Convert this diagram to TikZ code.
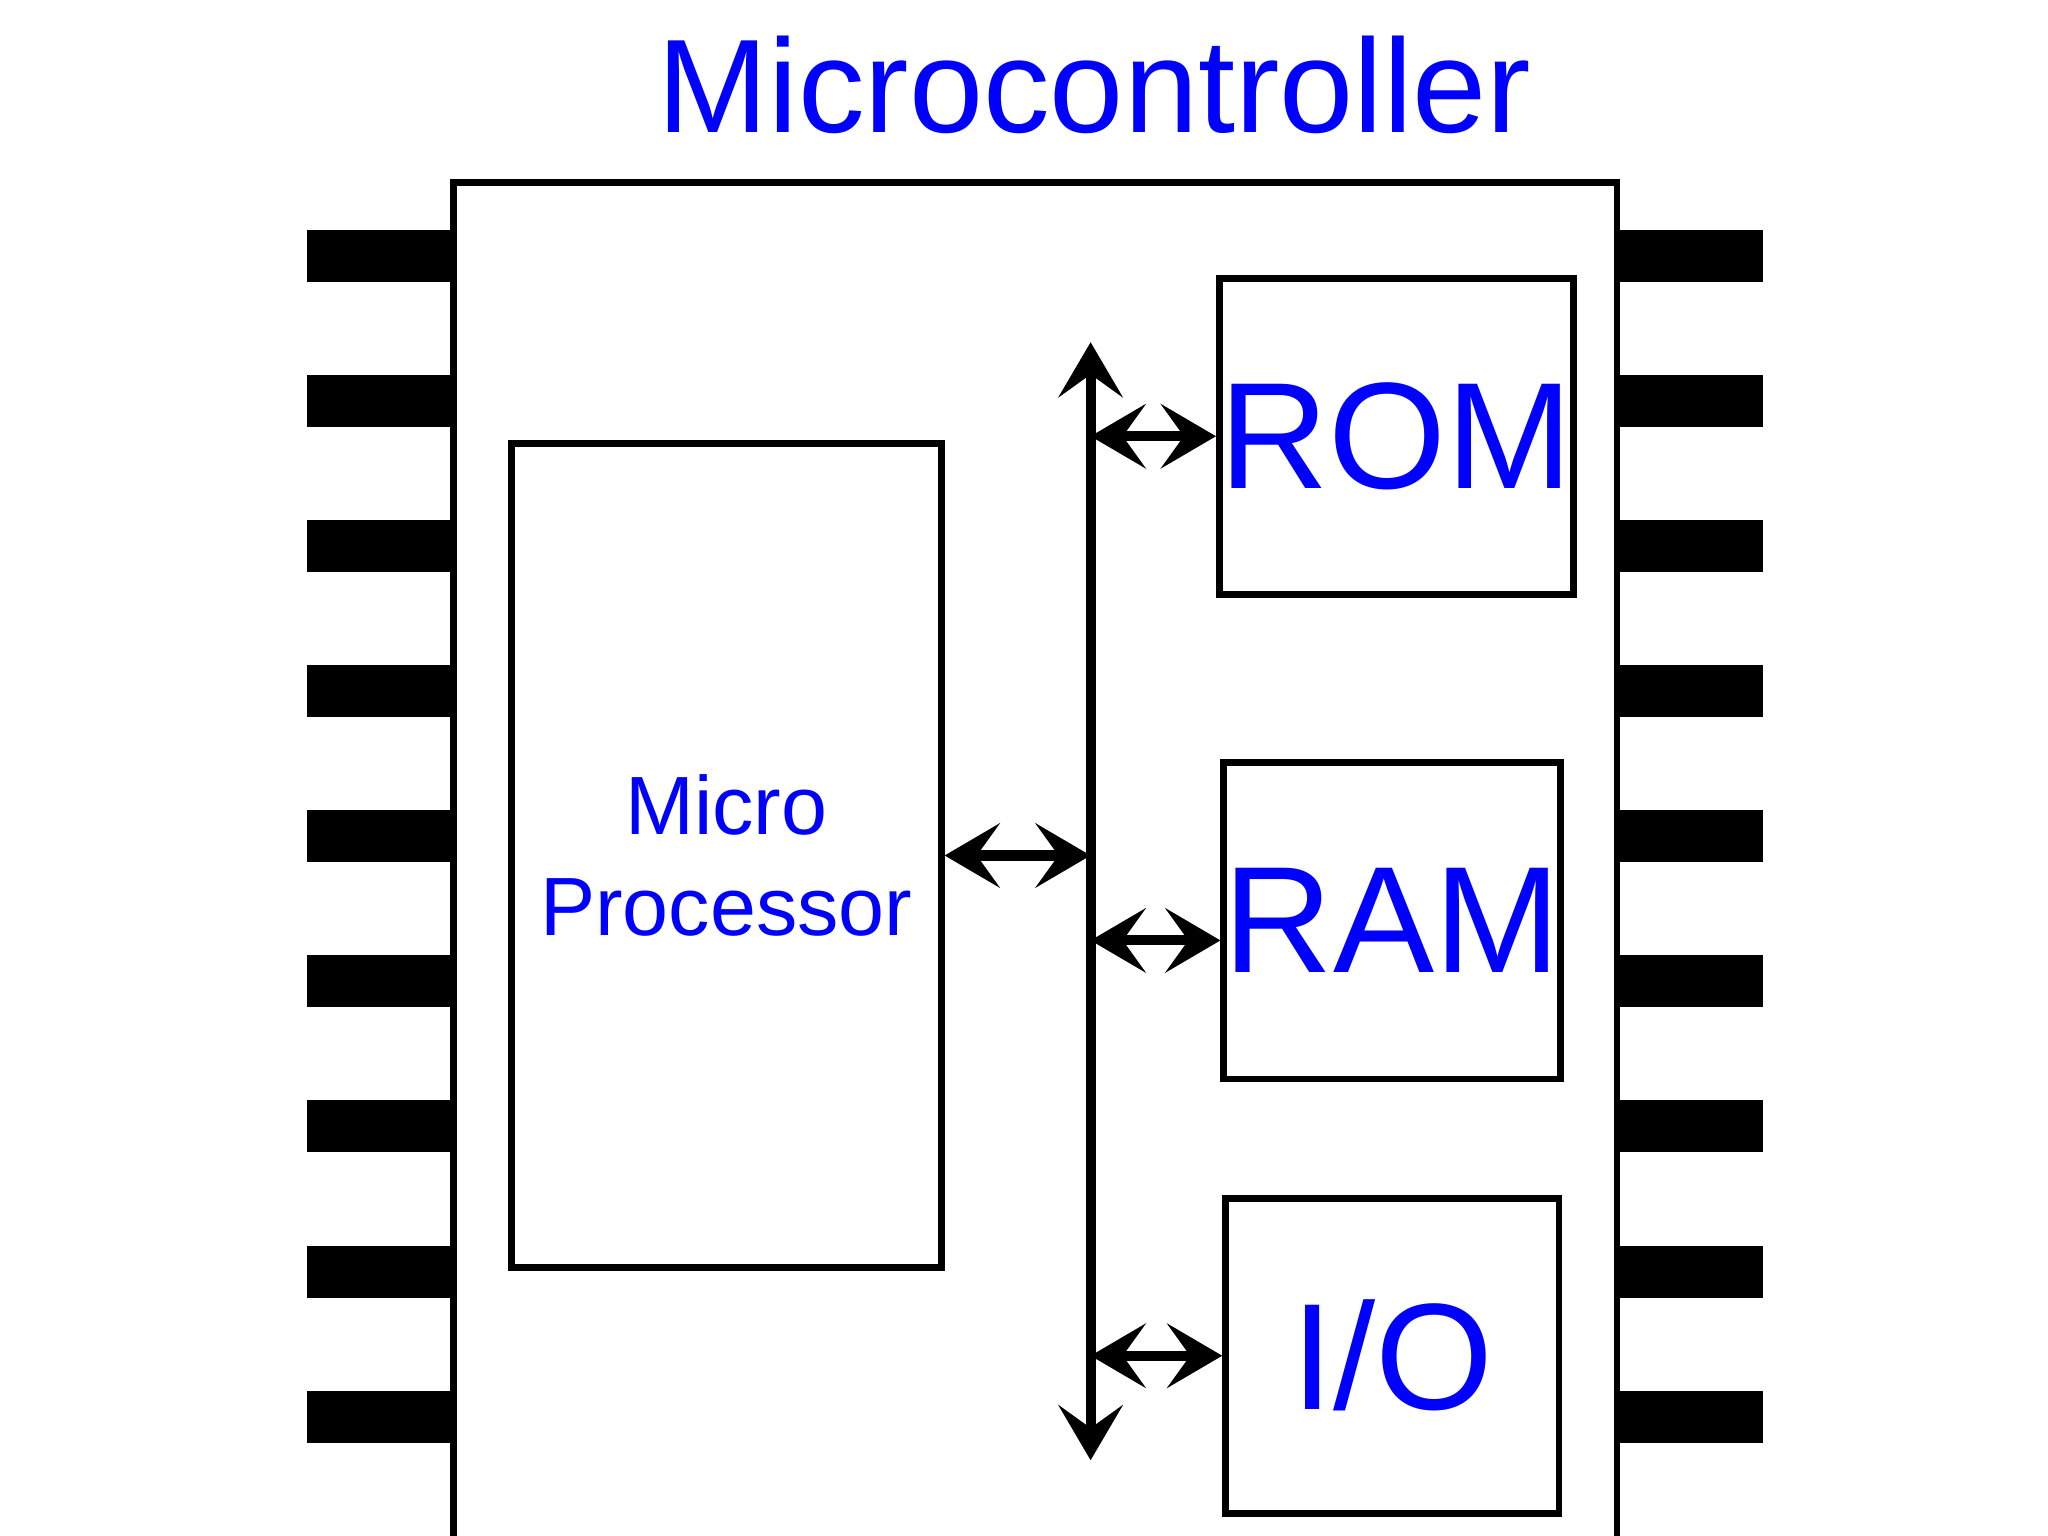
\documentclass[tikz,border=0pt]{standalone}
\usepackage{fontspec}
\setmainfont{Liberation Sans}
\usetikzlibrary{arrows.meta,positioning}
\tikzset{
    part/.style = {rectangle, draw, line width=1.5pt, inner sep=0pt, text=blue},
    pin/.style = {fill=black},
    link/.style = {line width=2.2pt, {Stealth[length=12pt,width=14pt,inset=5pt]}-{Stealth[length=12pt,width=14pt,inset=5pt]}}
}
\begin{document}
\begin{tikzpicture}[x=0.01cm, y=-0.01cm]
    \useasboundingbox (0,0) rectangle (1568,1176);
    \clip (0,0) rectangle (1568,1176);
    % Title and chip
    \node [text=blue, font=\fontsize{29}{34}\selectfont] (title) at (838,65) {Microcontroller};
    \draw [line width=1.5pt] (347,1190) -- (347,140) -- (1238,140) -- (1238,1190);
    \foreach \y in {196,307,418,529,640,751,862,974,1085} {
        \fill [pin] (235,\y-20) rectangle (347,\y+20);
        \fill [pin] (1238,\y-20) rectangle (1350,\y+20);
    }
    % Place blocks
    \node [part, minimum width=3.29cm, minimum height=6.3cm, align=center,
        font=\fontsize{18}{22}\selectfont] (cpu) at (556,655) {Micro\\Processor};
    \node [part, minimum width=2.6cm, minimum height=2.42cm,
        font=\fontsize{33}{40}\selectfont] (rom) at (1069,334) {ROM};
    \node [part, minimum width=2.55cm, minimum height=2.42cm,
        font=\fontsize{33}{40}\selectfont] (ram) at (1066,705) {RAM};
    \node [part, minimum width=2.55cm, minimum height=2.41cm,
        font=\fontsize{33}{40}\selectfont] (io) at (1066,1038) {I/O};
    % Bus and links
    \coordinate (bustop) at (835,262);
    \coordinate (busbot) at (835,1118);
    \draw [link] (bustop) -- (busbot);
    \draw [link] (cpu.east) -- (cpu.east -| bustop);
    \draw [link] (rom.west -| bustop) -- (rom.west);
    \draw [link] ([yshift=-0.15cm]ram.west -| bustop) -- ([yshift=-0.15cm]ram.west);
    \draw [link] (io.west -| bustop) -- (io.west);
\end{tikzpicture}
\end{document}
